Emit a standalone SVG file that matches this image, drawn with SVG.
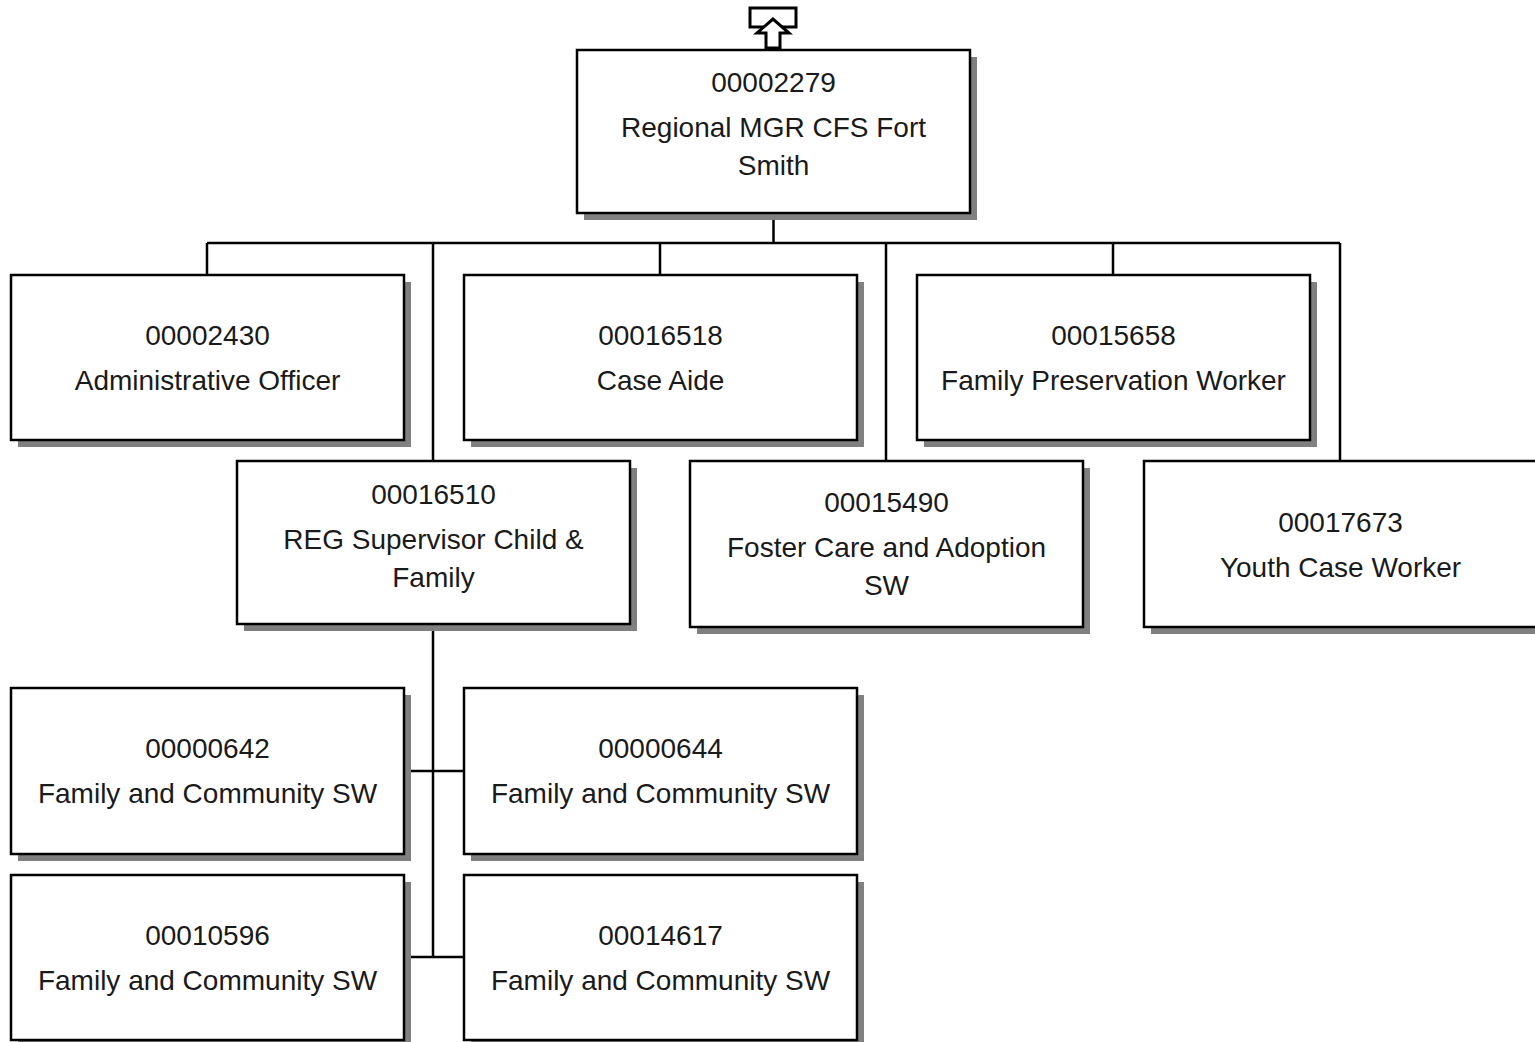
<svg xmlns="http://www.w3.org/2000/svg" width="1535" height="1042" viewBox="0 0 1535 1042">
<style>
.sh{fill:#808080}
.bx{fill:#fff;stroke:#000;stroke-width:2.5}
.t{font-family:"Liberation Sans",Arial,sans-serif;font-size:28px;fill:#1a1a1a;text-anchor:middle}
.c{stroke:#000;stroke-width:2.5;fill:none}
</style>
<rect width="1535" height="1042" fill="#fff"/>
<g id="connectors">
<path class="c" d="M773.5 213V243M207 243H1340M207 243V275M433 243V461M660 243V275M886 243V461M1113 243V275M1340 243V461"/>
<path class="c" d="M433 624V957M404 771H464M404 957H464"/>
</g>
<g id="uplink">
<rect x="750" y="8" width="46" height="19" fill="#fff" stroke="#000" stroke-width="3"/>
<path d="M773 19L757 33H766V48H780V33H789Z" fill="#fff" stroke="#000" stroke-width="3" stroke-linejoin="miter"/>
</g>
<g id="n00002279">
<rect class="sh" x="584" y="57" width="393" height="163"/>
<rect class="bx" x="577" y="50" width="393" height="163"/>
<text class="t" x="773.5" y="92">00002279</text>
<text class="t" x="773.5" y="137">Regional MGR CFS Fort</text>
<text class="t" x="773.5" y="175">Smith</text>
</g>
<g id="n00002430">
<rect class="sh" x="18" y="282" width="393" height="165"/>
<rect class="bx" x="11" y="275" width="393" height="165"/>
<text class="t" x="207.5" y="345">00002430</text>
<text class="t" x="207.5" y="390">Administrative Officer</text>
</g>
<g id="n00016518">
<rect class="sh" x="471" y="282" width="393" height="165"/>
<rect class="bx" x="464" y="275" width="393" height="165"/>
<text class="t" x="660.5" y="345">00016518</text>
<text class="t" x="660.5" y="390">Case Aide</text>
</g>
<g id="n00015658">
<rect class="sh" x="924" y="282" width="393" height="165"/>
<rect class="bx" x="917" y="275" width="393" height="165"/>
<text class="t" x="1113.5" y="345">00015658</text>
<text class="t" x="1113.5" y="390">Family Preservation Worker</text>
</g>
<g id="n00016510">
<rect class="sh" x="244" y="468" width="393" height="163"/>
<rect class="bx" x="237" y="461" width="393" height="163"/>
<text class="t" x="433.5" y="504">00016510</text>
<text class="t" x="433.5" y="549">REG Supervisor Child &amp;</text>
<text class="t" x="433.5" y="587">Family</text>
</g>
<g id="n00015490">
<rect class="sh" x="697" y="468" width="393" height="166"/>
<rect class="bx" x="690" y="461" width="393" height="166"/>
<text class="t" x="886.5" y="512">00015490</text>
<text class="t" x="886.5" y="557">Foster Care and Adoption</text>
<text class="t" x="886.5" y="595">SW</text>
</g>
<g id="n00017673">
<rect class="sh" x="1151" y="468" width="393" height="166"/>
<rect class="bx" x="1144" y="461" width="393" height="166"/>
<text class="t" x="1340.5" y="532">00017673</text>
<text class="t" x="1340.5" y="577">Youth Case Worker</text>
</g>
<g id="n00000642">
<rect class="sh" x="18" y="695" width="393" height="166"/>
<rect class="bx" x="11" y="688" width="393" height="166"/>
<text class="t" x="207.5" y="758">00000642</text>
<text class="t" x="207.5" y="803">Family and Community SW</text>
</g>
<g id="n00000644">
<rect class="sh" x="471" y="695" width="393" height="166"/>
<rect class="bx" x="464" y="688" width="393" height="166"/>
<text class="t" x="660.5" y="758">00000644</text>
<text class="t" x="660.5" y="803">Family and Community SW</text>
</g>
<g id="n00010596">
<rect class="sh" x="18" y="882" width="393" height="165"/>
<rect class="bx" x="11" y="875" width="393" height="165"/>
<text class="t" x="207.5" y="945">00010596</text>
<text class="t" x="207.5" y="990">Family and Community SW</text>
</g>
<g id="n00014617">
<rect class="sh" x="471" y="882" width="393" height="165"/>
<rect class="bx" x="464" y="875" width="393" height="165"/>
<text class="t" x="660.5" y="945">00014617</text>
<text class="t" x="660.5" y="990">Family and Community SW</text>
</g>
</svg>
